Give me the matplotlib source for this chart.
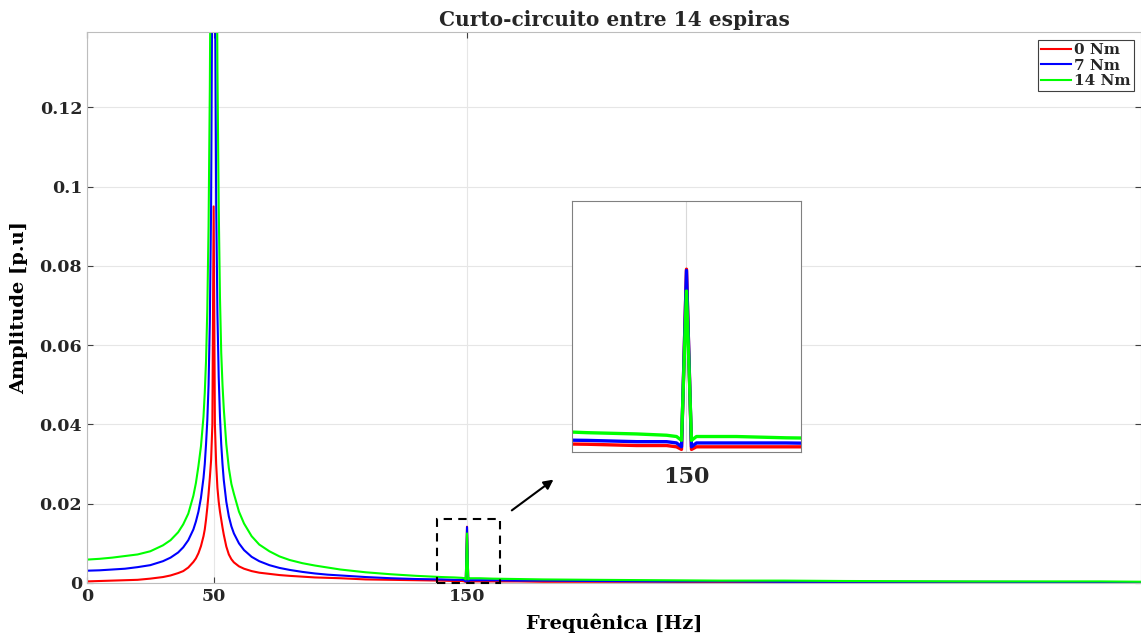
import numpy as np
import matplotlib
matplotlib.use('Agg')
import matplotlib.pyplot as plt
from matplotlib.patches import Rectangle

# frequency points (Hz)
freq = [0, 5, 10, 15, 20, 25, 30, 33, 36, 38, 40, 42, 43, 44, 45, 46, 46.5, 47, 47.5, 48,
        48.5, 49, 49.5, 50, 50.5, 51, 51.5, 52, 52.5, 53, 53.5, 54, 55, 56, 57, 58, 60, 62,
        65, 68, 72, 76, 80, 85, 90, 95, 100, 110, 120, 130, 140, 145, 148, 149, 149.5, 150,
        150.5, 151, 152, 155, 160, 170, 180, 200, 225, 250, 275, 300, 350, 400, 420]

# amplitudes [p.u]
amp_0nm = [0.0004, 0.0005, 0.0006, 0.0007, 0.0008, 0.0011, 0.0015, 0.0019, 0.0025, 0.0030,
           0.0039, 0.0053, 0.0062, 0.0075, 0.0093, 0.0118, 0.0135, 0.0160, 0.0190, 0.0225,
           0.0265, 0.031, 0.040, 0.095, 0.040, 0.030, 0.024, 0.0205, 0.018, 0.0160,
           0.0140, 0.0122, 0.0092, 0.0072, 0.0060, 0.0052, 0.0042, 0.0036, 0.0030, 0.0026,
           0.0023, 0.0020, 0.0018, 0.0016, 0.0014, 0.0013, 0.0012, 0.0009, 0.0008, 0.0007,
           0.0006, 0.0005, 0.0005, 0.0004, 0.0002, 0.0142, 0.0002, 0.0004, 0.0004, 0.0004,
           0.0004, 0.0004, 0.0003, 0.0003, 0.0003, 0.0002, 0.0002, 0.0002, 0.0002, 0.0002, 0.0002]

amp_7nm = [0.0031, 0.0032, 0.0034, 0.0036, 0.0040, 0.0045, 0.0055, 0.0064, 0.0077, 0.0090,
           0.0108, 0.0135, 0.0155, 0.0180, 0.0215, 0.0265, 0.030, 0.035, 0.041, 0.050,
           0.066, 0.095, 0.16, 0.30, 0.16, 0.096, 0.068, 0.052, 0.042, 0.035,
           0.030, 0.026, 0.0205, 0.0168, 0.0143, 0.0125, 0.0100, 0.0083, 0.0066, 0.0055,
           0.0045, 0.0038, 0.0033, 0.0028, 0.0024, 0.0021, 0.0019, 0.0015, 0.0012, 0.0010,
           0.0009, 0.0008, 0.0008, 0.0007, 0.0004, 0.0141, 0.0004, 0.0007, 0.0007, 0.0007,
           0.0007, 0.0006, 0.0006, 0.0005, 0.0004, 0.0004, 0.0003, 0.0003, 0.0003, 0.0002, 0.0002]

amp_14nm = [0.0059, 0.0061, 0.0064, 0.0068, 0.0072, 0.0080, 0.0095, 0.0108, 0.0128, 0.0148,
            0.0175, 0.0220, 0.0252, 0.0295, 0.0345, 0.042, 0.048, 0.056, 0.069, 0.090,
            0.125, 0.18, 0.30, 0.45, 0.30, 0.19, 0.13, 0.095, 0.072, 0.058,
            0.050, 0.044, 0.035, 0.029, 0.025, 0.0225, 0.0180, 0.0150, 0.0118, 0.0097,
            0.0080, 0.0067, 0.0058, 0.0050, 0.0044, 0.0039, 0.0034, 0.0027, 0.0022, 0.0018,
            0.0015, 0.0014, 0.0013, 0.0012, 0.0009, 0.0125, 0.0009, 0.0012, 0.0012, 0.0012,
            0.0011, 0.0010, 0.0009, 0.0008, 0.0007, 0.0006, 0.0006, 0.0005, 0.0004, 0.0004, 0.0003]

labels = ['0 Nm', '7 Nm', '14 Nm']
colors = ['#ff0000', '#0000ff', '#00ff00']

plt.rcParams['font.family'] = 'DejaVu Serif'
plt.rcParams['font.weight'] = 'bold'
plt.rcParams['text.color'] = '#262626'

fig = plt.figure(figsize=(11.41, 6.41), dpi=100)
ax = fig.add_axes([0.0762, 0.0905, 0.9238, 0.8596])

for y, lab, c in zip([amp_0nm, amp_7nm, amp_14nm], labels, colors):
    ax.plot(freq, y, color=c, lw=1.5, label=lab)

ax.set_xlim(0, 416)
ax.set_ylim(0, 0.139)
ax.set_xticks([0, 50, 150])
ax.set_yticks([0, 0.02, 0.04, 0.06, 0.08, 0.1, 0.12])
ax.set_yticklabels(['0', '0.02', '0.04', '0.06', '0.08', '0.1', '0.12'])
ax.tick_params(direction='in', length=4, color='#404040', labelcolor='#262626',
               labelsize=12.5, top=True, right=True)
for lbl in ax.get_xticklabels() + ax.get_yticklabels():
    lbl.set_fontweight('bold')
ax.grid(True, color='#e6e6e6', lw=0.8)
for s in ax.spines.values():
    s.set_color('#bdbdbd')

ax.set_title('Curto-circuito entre 14 espiras', fontsize=14.5, fontweight='bold', pad=4)
ax.set_xlabel('Frequênica [Hz]', fontsize=14, fontweight='bold', labelpad=6)
ax.set_ylabel('Amplitude [p.u]', fontsize=14, fontweight='bold', labelpad=8)

leg = ax.legend(loc='upper right', fontsize=11, handlelength=2.0, handletextpad=0.2,
                borderpad=0.2, labelspacing=0.1, fancybox=False, framealpha=1,
                bbox_to_anchor=(0.9935, 0.985), borderaxespad=0)
leg.get_frame().set_edgecolor('#404040')
leg.get_frame().set_linewidth(0.8)

# zoom region
x0, x1, ytop = 138, 163, 0.0161
ax.add_patch(Rectangle((x0, 0), x1 - x0, ytop, fill=False, ls=(0, (4, 3)), lw=1.5,
                       edgecolor='black', zorder=5, clip_on=False))
ax.annotate('', xy=(185, 0.0265), xytext=(166.8, 0.0179),
            arrowprops=dict(arrowstyle='-|>', color='black', lw=1.5, mutation_scale=14))

axin = fig.add_axes([0.5013, 0.2949, 0.2007, 0.3916])
for y, c in zip([amp_0nm, amp_7nm, amp_14nm], colors):
    axin.plot(freq, y, color=c, lw=2.4)
axin.set_xlim(138.5, 161.5)
axin.set_ylim(0, 0.0195)
axin.set_xticks([150])
axin.set_yticks([])
axin.tick_params(length=0, labelsize=16, pad=10, labelcolor='#262626')
for lbl in axin.get_xticklabels():
    lbl.set_fontweight('bold')
axin.grid(True, axis='x', color='#d9d9d9', lw=0.8)
for s in axin.spines.values():
    s.set_color('#808080')

plt.savefig('out.png', dpi=100)
